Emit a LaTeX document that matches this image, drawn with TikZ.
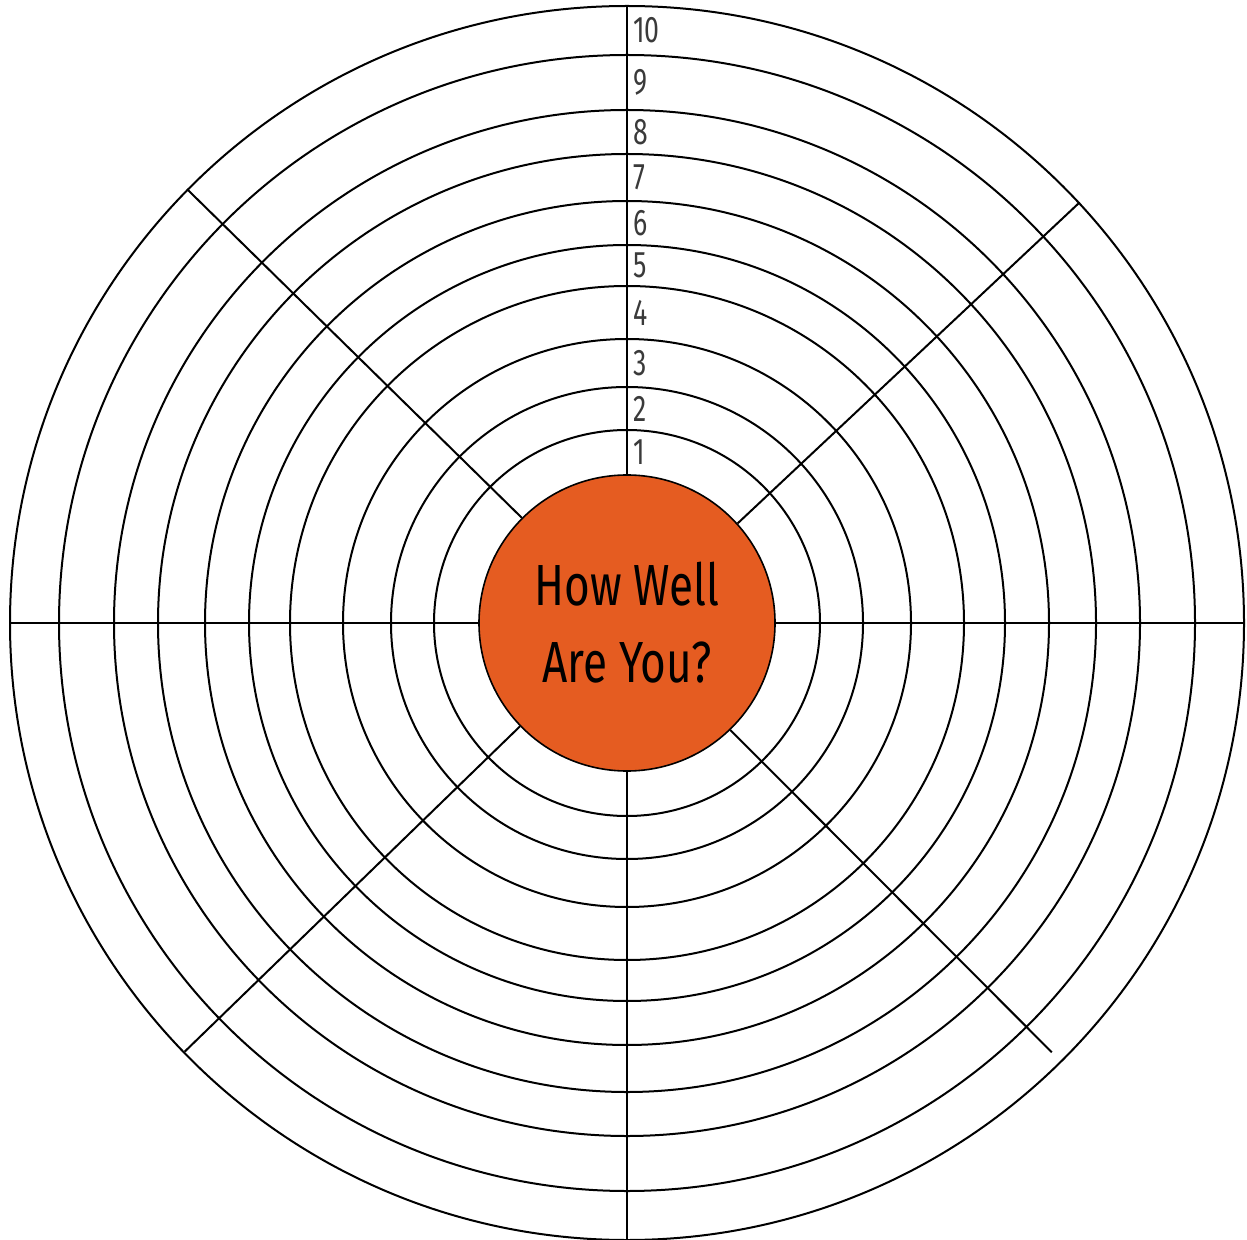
\documentclass[tikz,border=0pt]{standalone}
\usepackage{fontspec}
\setmainfont{Fira Sans}
\usetikzlibrary{backgrounds}
\definecolor{HubOrange}{HTML}{E55C21}
\definecolor{ScoreGray}{HTML}{3A3A3A}
\tikzset{
  ring/.style={draw=black,line width=1pt},
  spoke/.style={draw=black,line width=1pt},
  hub/.style={circle,draw=black,fill=HubOrange,line width=0.8pt,
    minimum size=148pt,inner sep=0pt,align=center,
    font=\fontsize{29}{38.5}\selectfont,text=black},
  score/.style={anchor=west,inner sep=0pt,
    font=\fontsize{18.5}{20}\selectfont,text=ScoreGray},
}

\begin{document}
\begin{tikzpicture}[x=0.5pt,y=0.5pt]
  \useasboundingbox (0,0) rectangle (1247,1239);
  % Centre
  \node[hub] (hub) at (627,616)
    {\scalebox{0.76}[1]{How Well}\\\scalebox{0.76}[1]{Are You?}};
  \begin{scope}[on background layer]
    % Rings
    \foreach \r in {193,236,284,337,378,422,469,513,568,617}
      \draw[ring] (hub.center) circle (\r);
    % Spokes
    \foreach \ang/\len [count=\i] in {90/617,270/618,0/617,180/617,
        135.4/618,42.9/618,224.1/616,314.7/604}{
      \path (hub.center) ++(\ang:\len) coordinate (s\i);
      \draw[spoke] (hub.\ang) -- (s\i);
    }
  \end{scope}
  % Scores
  \foreach \r [remember=\r as \rin (initially 148),count=\n] in
      {193,236,284,337,378,422,469,513,568,617}
    \path (hub.center) ++(6,{(\r+\rin)/2}) node[score] (n\n)
      {\scalebox{0.72}[1]{\n}};
\end{tikzpicture}
\end{document}
